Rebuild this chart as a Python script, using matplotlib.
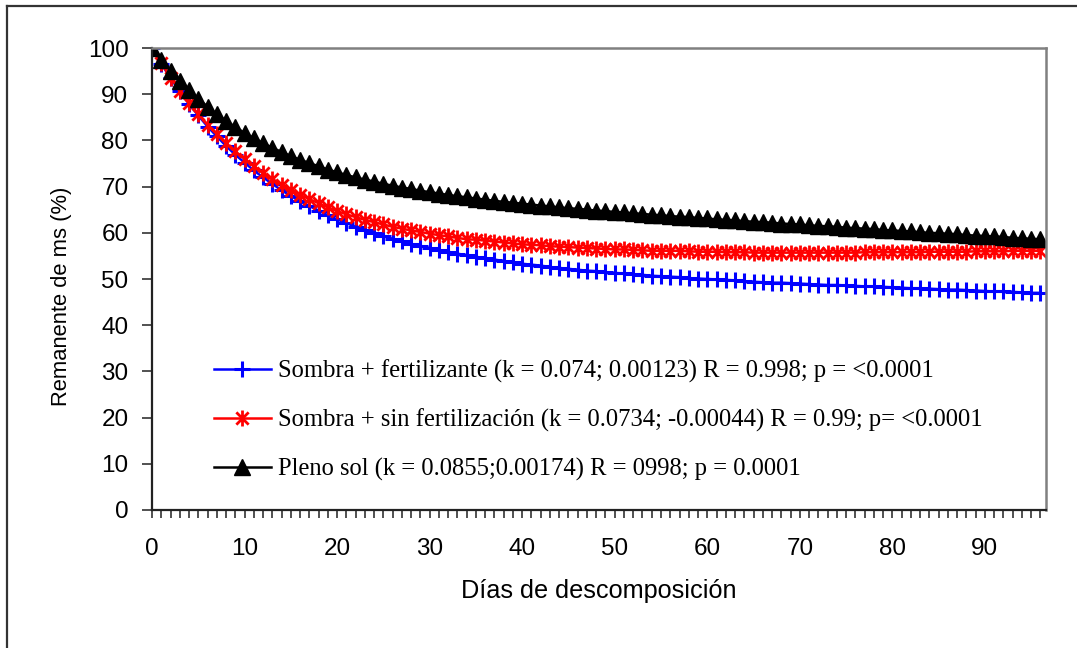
import numpy as np
import matplotlib.pyplot as plt
from matplotlib.path import Path
from matplotlib.lines import Line2D
from matplotlib.ticker import MultipleLocator

dias = list(range(0, 97))

sombra_fert = [
    100.0, 96.6, 93.5, 90.6, 87.9, 85.4, 83.0, 80.9, 78.8, 76.9,
    75.2, 73.5, 72.0, 70.6, 69.2, 68.0, 66.8, 65.8, 64.8, 63.8,
    62.9, 62.1, 61.3, 60.6, 59.9, 59.3, 58.7, 58.2, 57.6, 57.2,
    56.7, 56.3, 55.9, 55.5, 55.1, 54.8, 54.5, 54.2, 53.9, 53.6,
    53.3, 53.1, 52.9, 52.6, 52.4, 52.2, 52.0, 51.8, 51.7, 51.5,
    51.3, 51.2, 51.0, 50.9, 50.7, 50.6, 50.5, 50.4, 50.2, 50.1,
    50.0, 49.9, 49.8, 49.7, 49.5, 49.4, 49.3, 49.2, 49.2, 49.1,
    49.0, 48.9, 48.8, 48.7, 48.7, 48.6, 48.5, 48.4, 48.4, 48.3,
    48.2, 48.1, 48.0, 48.0, 47.9, 47.8, 47.7, 47.7, 47.6, 47.5,
    47.4, 47.3, 47.3, 47.2, 47.1, 47.0, 47.0,
]

sombra_sin = [
    100.0, 96.7, 93.6, 90.8, 88.1, 85.7, 83.4, 81.4, 79.4, 77.6,
    76.0, 74.4, 73.0, 71.7, 70.4, 69.3, 68.2, 67.3, 66.4, 65.5,
    64.7, 64.0, 63.4, 62.8, 62.3, 61.8, 61.3, 60.9, 60.5, 60.2,
    59.8, 59.5, 59.2, 58.9, 58.6, 58.5, 58.3, 58.1, 57.9, 57.7,
    57.5, 57.4, 57.3, 57.1, 57.0, 56.9, 56.8, 56.7, 56.6, 56.5,
    56.4, 56.4, 56.3, 56.2, 56.1, 56.1, 56.1, 56.1, 56.0, 55.9,
    55.9, 55.9, 55.8, 55.8, 55.8, 55.7, 55.7, 55.7, 55.7, 55.7,
    55.7, 55.7, 55.7, 55.7, 55.7, 55.7, 55.7, 55.8, 55.8, 55.8,
    55.8, 55.8, 55.8, 55.8, 55.9, 55.9, 55.9, 55.9, 55.9, 56.0,
    56.0, 56.0, 56.0, 56.1, 56.1, 56.1, 56.1,
]

pleno_sol = [
    100.0, 97.4, 95.1, 92.9, 90.9, 89.0, 87.3, 85.7, 84.2, 82.9,
    81.6, 80.5, 79.4, 78.4, 77.5, 76.6, 75.8, 75.1, 74.4, 73.7,
    73.1, 72.5, 72.0, 71.5, 71.1, 70.6, 70.2, 69.8, 69.5, 69.1,
    68.8, 68.5, 68.2, 67.9, 67.7, 67.4, 67.2, 66.9, 66.7, 66.5,
    66.3, 66.1, 65.9, 65.7, 65.5, 65.3, 65.2, 65.0, 64.8, 64.7,
    64.5, 64.4, 64.2, 64.1, 63.9, 63.8, 63.6, 63.5, 63.4, 63.2,
    63.1, 62.9, 62.8, 62.7, 62.5, 62.4, 62.3, 62.2, 62.0, 61.9,
    61.8, 61.6, 61.5, 61.4, 61.3, 61.1, 61.0, 60.9, 60.8, 60.6,
    60.5, 60.4, 60.3, 60.1, 60.0, 59.9, 59.8, 59.7, 59.5, 59.4,
    59.3, 59.2, 59.1, 58.9, 58.8, 58.7, 58.6,
]

etiquetas = [
    "Sombra + fertilizante (k = 0.074; 0.00123) R = 0.998; p = <0.0001",
    "Sombra + sin fertilización (k = 0.0734; -0.00044) R = 0.99; p= <0.0001",
    "Pleno sol (k = 0.0855;0.00174) R = 0998; p = 0.0001",
]

# Excel-style asterisk: an X plus a vertical bar
asterisco = Path(
    [(-1, -1), (1, 1), (-1, 1), (1, -1), (0, -1.3), (0, 1.3)],
    [Path.MOVETO, Path.LINETO, Path.MOVETO, Path.LINETO, Path.MOVETO, Path.LINETO],
)

sans = "Liberation Sans"
serif = "Liberation Serif"

fig = plt.figure(figsize=(10.77, 6.48), dpi=100)
ax = fig.add_axes([152 / 1077, 1 - 510 / 648, (1046 - 152) / 1077, (510 - 48) / 648])

ax.plot(dias, sombra_fert, color="#0000ff", lw=1.8, marker="+", ms=12, mew=2.2,
        label=etiquetas[0])
ax.plot(dias, sombra_sin, color="#ff0000", lw=1.8, marker=asterisco, ms=11.5, mew=2,
        label=etiquetas[1])
ax.plot(dias, pleno_sol, color="black", lw=1.8, marker="^", ms=11.5,
        label=etiquetas[2])

ax.set_xlim(0, 96.6)
ax.set_ylim(0, 100)
ax.xaxis.set_major_locator(MultipleLocator(10))
ax.xaxis.set_minor_locator(MultipleLocator(1))
ax.yaxis.set_major_locator(MultipleLocator(10))

for side in ["left", "bottom"]:
    ax.spines[side].set_color("#222222")
    ax.spines[side].set_linewidth(1.6)
for side in ["top", "right"]:
    ax.spines[side].set_color("#808080")
    ax.spines[side].set_linewidth(1.8)

ax.tick_params(axis="both", which="both", direction="out", color="#222222", width=1.1)
ax.tick_params(axis="x", which="major", length=6, pad=14)
ax.tick_params(axis="x", which="minor", length=6)
ax.tick_params(axis="y", which="major", length=7, pad=10)
for lab in ax.get_xticklabels() + ax.get_yticklabels():
    lab.set_fontfamily(sans)
    lab.set_fontsize(17.5)

ax.set_xlabel("Días de descomposición", fontfamily=sans, fontsize=18.2, labelpad=14)
ax.set_ylabel("Remanente de ms (%)", fontfamily=sans, fontsize=15.8)
ax.yaxis.set_label_coords(72 / 1077, 1 - 296 / 648, transform=fig.transFigure)

ax.legend(loc="upper left", bbox_to_anchor=(214 / 1077, 1 - 360 / 648),
          bbox_transform=fig.transFigure, frameon=False, borderpad=0,
          borderaxespad=0, handlelength=2.3, handletextpad=0.3, labelspacing=1.03,
          prop={"family": serif, "size": 17.7})

# outer frame of the chart area
fig.add_artist(Line2D([7 / 1077, 1.0], [1 - 6 / 648, 1 - 6 / 648],
                      transform=fig.transFigure, color="#333333", lw=1.6))
fig.add_artist(Line2D([7 / 1077, 7 / 1077], [0.0, 1 - 6 / 648],
                      transform=fig.transFigure, color="#333333", lw=1.6))

fig.savefig("out.png", dpi=100)
